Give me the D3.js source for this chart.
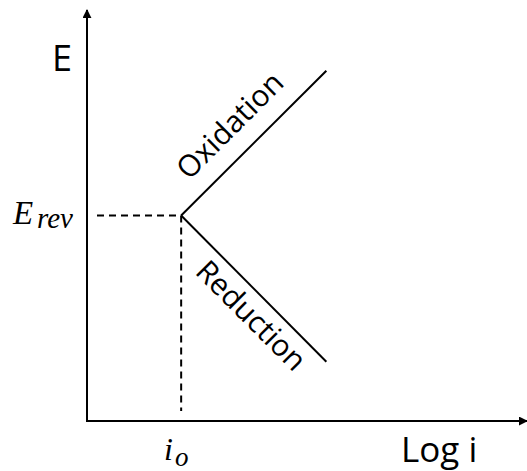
<!DOCTYPE html>
<html>
<head>
<meta charset="utf-8">
<script src="https://cdn.jsdelivr.net/npm/d3@7"></script>
<style>
html,body{margin:0;padding:0;background:#fff;}
svg{display:block;}
</style>
</head>
<body>
<svg id="chart" width="527" height="471"></svg>
<script>
// ---- data (axis units: 0..100 on both axes) ----
const vertex = [21.4, 50.0];               // [log i0, Erev]
const oxidationEnd = [54.4, 85.2];          // end of anodic Tafel line
const reductionEnd = [54.4, 14.4];          // end of cathodic Tafel line
const axisLabels = ["E", "Log i"];
const markerLabels = ["E", "rev", "i", "o"];
const branchLabels = ["Oxidation", "Reduction"];

const W = 527, H = 471;
const svg = d3.select("#chart");
const x = d3.scaleLinear().domain([0, 100]).range([87, 527]);
const y = d3.scaleLinear().domain([0, 100]).range([421, 10]);

const defs = svg.append("defs");
defs.append("marker").attr("id", "arrow").attr("viewBox", "0 0 10 10")
  .attr("refX", 9).attr("refY", 5).attr("markerWidth", 9).attr("markerHeight", 9)
  .attr("markerUnits", "userSpaceOnUse").attr("orient", "auto")
  .append("path").attr("d", "M0,0L10,5L0,10Z").attr("fill", "#000");

// axes
svg.append("line").attr("x1", x(0)).attr("y1", y(0)).attr("x2", x(0)).attr("y2", y(100))
  .attr("stroke", "#000").attr("stroke-width", 2).attr("marker-end", "url(#arrow)");
svg.append("line").attr("x1", x(0) - 1).attr("y1", y(0)).attr("x2", x(100)).attr("y2", y(0))
  .attr("stroke", "#000").attr("stroke-width", 2).attr("marker-end", "url(#arrow)");

// dashed guides
svg.append("line").attr("x1", x(0) + 10).attr("y1", y(vertex[1])).attr("x2", x(vertex[0])).attr("y2", y(vertex[1]))
  .attr("stroke", "#000").attr("stroke-width", 2).attr("stroke-dasharray", "7,5");
svg.append("line").attr("x1", x(vertex[0])).attr("y1", y(vertex[1])).attr("x2", x(vertex[0])).attr("y2", y(0) - 10)
  .attr("stroke", "#000").attr("stroke-width", 2).attr("stroke-dasharray", "7,5");

// Tafel lines
const line = d3.line().x(d => x(d[0])).y(d => y(d[1]));
[[vertex, oxidationEnd], [vertex, reductionEnd]].forEach(seg => {
  svg.append("path").attr("d", line(seg)).attr("fill", "none")
    .attr("stroke", "#000").attr("stroke-width", 2);
});

const sans = "'Open Sans', 'Noto Sans', sans-serif";
// axis labels
svg.append("text").attr("x", 52).attr("y", 71).attr("font-family", sans)
  .attr("font-size", 36).attr("fill", "#000").text(axisLabels[0]);
svg.append("text").attr("x", 401).attr("y", 462).attr("font-family", sans)
  .attr("font-size", 35).attr("fill", "#000").text(axisLabels[1]);

// E_rev
const serif = "'Liberation Serif', 'DejaVu Serif', serif";
svg.append("text").attr("x", 13).attr("y", 224).attr("font-family", serif)
  .attr("font-style", "italic").attr("font-size", 33).attr("fill", "#000").text(markerLabels[0]);
svg.append("text").attr("x", 37).attr("y", 228).attr("font-family", serif)
  .attr("font-style", "italic").attr("font-size", 29).attr("fill", "#000").text(markerLabels[1]);

// i_o
svg.append("text").attr("x", 164).attr("y", 460).attr("font-family", serif)
  .attr("font-style", "italic").attr("font-size", 32).attr("fill", "#000").text(markerLabels[2]);
svg.append("text").attr("x", 175).attr("y", 466).attr("font-family", serif)
  .attr("font-style", "italic").attr("font-size", 27).attr("fill", "#000").text(markerLabels[3]);

// branch labels
svg.append("text").attr("transform", "translate(189,181) rotate(-45)")
  .attr("font-family", sans).attr("font-size", 30).attr("fill", "#000").text(branchLabels[0]);
svg.append("text").attr("transform", "translate(194,273) rotate(45)")
  .attr("font-family", sans).attr("font-size", 30).attr("fill", "#000").text(branchLabels[1]);
</script>
</body>
</html>
